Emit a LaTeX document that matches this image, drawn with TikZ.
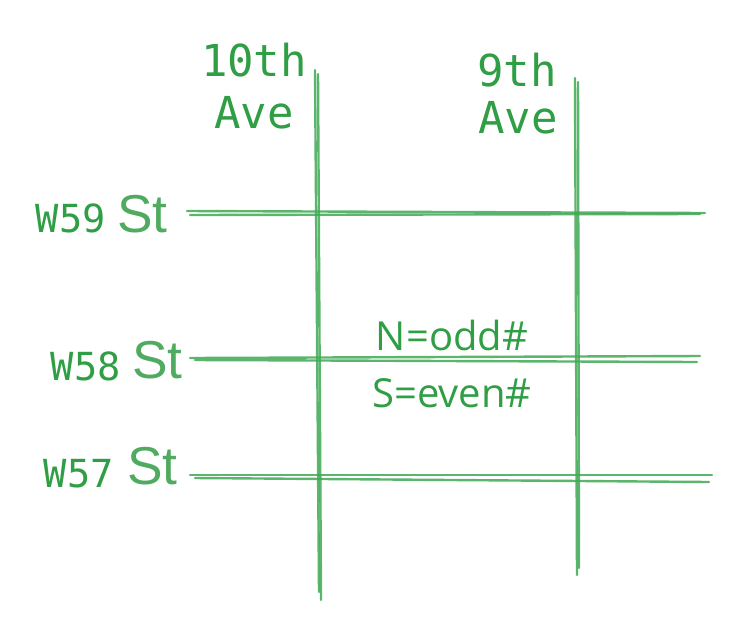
\documentclass[tikz,border=0pt]{standalone}
\usepackage{fontspec}
\setmainfont{DejaVu Sans}
\newfontfamily\monof{DejaVu Sans Mono}
\newfontfamily\sansf{Liberation Sans}
\newfontfamily\handf{Open Sans}
\definecolor{txtgreen}{RGB}{47,158,68}
\definecolor{stgreen}{RGB}{80,170,96}
\definecolor{linegreen}{RGB}{64,168,84}
\begin{document}
\begin{tikzpicture}[x=0.75pt,y=-0.75pt,
  street/.style={draw=linegreen,line width=1.8pt,line cap=round,opacity=0.85},
  avelbl/.style={text=txtgreen,font=\monof\fontsize{33}{40}\selectfont,inner sep=0pt,align=center},
  numlbl/.style={text=txtgreen,font=\monof\fontsize{29}{34}\selectfont,inner sep=0pt,anchor=base east},
  stlbl/.style={text=stgreen,font=\sansf\fontsize{40}{44}\selectfont,inner sep=0pt,anchor=base west},
  notelbl/.style={text=txtgreen,font=\handf\fontsize{30}{34}\selectfont,inner sep=0pt}]
\useasboundingbox (0,0) rectangle (741,629);
% avenue endpoints
\coordinate (a10t1) at (315,70); \coordinate (a10b1) at (319,592);
\coordinate (a10t2) at (318,74); \coordinate (a10b2) at (321,600);
\coordinate (a9t1) at (575,78); \coordinate (a9b1) at (577,575);
\coordinate (a9t2) at (578,82); \coordinate (a9b2) at (579,568);
% street endpoints
\coordinate (s59l1) at (187,211); \coordinate (s59r1) at (705,213);
\coordinate (s59l2) at (190,215); \coordinate (s59r2) at (700,214);
\coordinate (s58l1) at (190,358); \coordinate (s58r1) at (700,356);
\coordinate (s58l2) at (195,360); \coordinate (s58r2) at (697,362);
\coordinate (s57l1) at (190,475); \coordinate (s57r1) at (712,475);
\coordinate (s57l2) at (195,478); \coordinate (s57r2) at (709,482);
% lines
\draw[street] (a10t1) -- (a10b1);
\draw[street] (a10t2) -- (a10b2);
\draw[street] (a9t1) -- (a9b1);
\draw[street] (a9t2) -- (a9b2);
\draw[street] (s59l1) -- (s59r1);
\draw[street] (s59l2) -- (s59r2);
\draw[street] (s58l1) -- (s58r1);
\draw[street] (s58l2) -- (s58r2);
\draw[street] (s57l1) -- (s57r1);
\draw[street] (s57l2) -- (s57r2);
% labels
\node[avelbl] (ten) at (254,60) {10th};
\node[avelbl] (tenave) at (254,113) {Ave};
\node[avelbl] (nine) at (517,70) {9th};
\node[avelbl] (nineave) at (518,118) {Ave};
\node[numlbl] (w59) at (106,232) {W59};
\node[stlbl] (st59) at (117,232) {St};
\node[numlbl] (w58) at (121,380) {W58};
\node[stlbl] (st58) at (132,378) {St};
\node[numlbl] (w57) at (114,487) {W57};
\node[stlbl] (st57) at (127,484) {St};
\node[notelbl] (north) at (452,335) {N=odd\#};
\node[notelbl] (south) at (452,393) {S=even\#};
\end{tikzpicture}
\end{document}
